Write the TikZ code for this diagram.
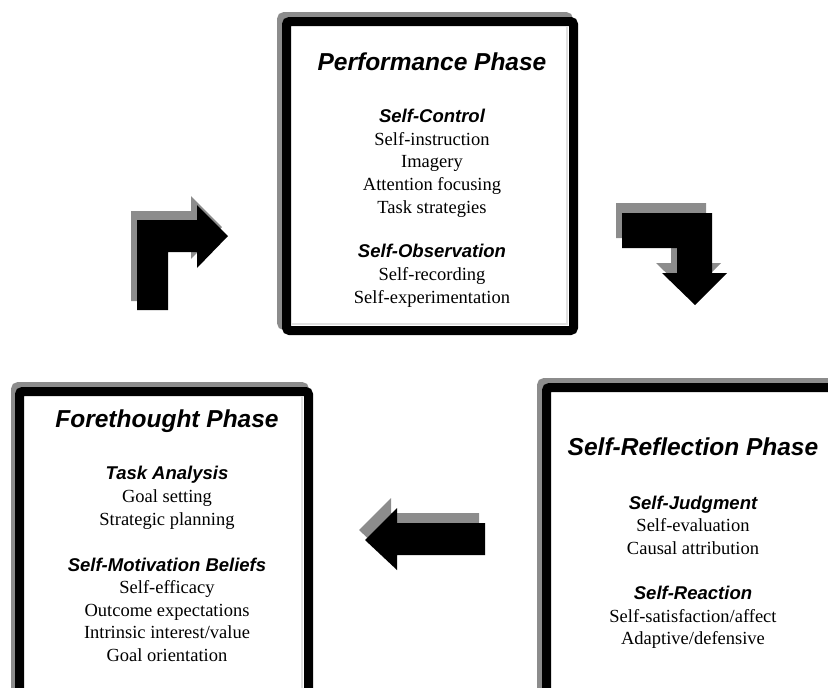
\documentclass[tikz,border=0pt]{standalone}
\usepackage{fontspec}
\setmainfont{Liberation Serif}
\setsansfont{Liberation Sans}
\begin{document}
\begin{tikzpicture}[x=1pt,y=-1pt,
  phasebox/.style={line width=9pt,rounded corners=3pt,draw=black,fill=white},
  boxshadow/.style={line width=9pt,rounded corners=3pt,draw=black!45},
  innerbevel/.style={line width=2pt,draw=black!12},
  arrowshadow/.style={fill=black!45},
  arrowbody/.style={fill=black},
  title/.style={anchor=base,inner sep=0pt,font=\fontsize{24.5}{28}\sffamily\bfseries\itshape},
  head/.style={anchor=base,inner sep=0pt,font=\fontsize{18.5}{22}\sffamily\bfseries\itshape},
  body/.style={anchor=base,inner sep=0pt,font=\fontsize{18.5}{22}\rmfamily}]
\useasboundingbox (0,0) rectangle (828,688);
\begin{scope}
\clip (0,0) rectangle (828,688);
% Performance box
\draw[boxshadow] (281.5,16.5) rectangle (568.5,325.5);
\draw[phasebox] (286.5,21.5) rectangle (573.5,330.5);
\draw[innerbevel] (567,27) -- (567,324) -- (292,324);
% Forethought box
\draw[boxshadow] (15.5,386.5) rectangle (304.5,700);
\draw[phasebox] (19.5,391.5) rectangle (308.5,705);
\draw[innerbevel] (302,397) -- (302,688);
% Self-Reflection box
\draw[boxshadow] (541.5,382.5) rectangle (840,700);
\draw[phasebox] (546.5,387.5) rectangle (845,705);
% Arrow 1 (forethought -> performance)
\fill[arrowshadow,shift={(-6,-9)}] (137,310) -- (137,220) -- (197,220) -- (197,205) -- (228,236) -- (197,268) -- (197,252) -- (168,252) -- (168,310) -- cycle;
\fill[arrowbody] (137,310) -- (137,220) -- (197,220) -- (197,205) -- (228,236) -- (197,268) -- (197,252) -- (168,252) -- (168,310) -- cycle;
% Arrow 2 (performance -> self-reflection)
\fill[arrowshadow,shift={(-6,-10)}] (622,213) -- (712,213) -- (712,273) -- (727,273) -- (695,305) -- (662,273) -- (677,273) -- (677,248) -- (622,248) -- cycle;
\fill[arrowbody] (622,213) -- (712,213) -- (712,273) -- (727,273) -- (695,305) -- (662,273) -- (677,273) -- (677,248) -- (622,248) -- cycle;
% Arrow 3 (self-reflection -> forethought)
\fill[arrowshadow,shift={(-6,-10)}] (485,523) -- (397,523) -- (397,508) -- (365,540) -- (397,570) -- (397,555) -- (485,555) -- cycle;
\fill[arrowbody] (485,523) -- (397,523) -- (397,508) -- (365,540) -- (397,570) -- (397,555) -- (485,555) -- cycle;
\end{scope}
% Performance text
\node[title] (pt) at (432,70) {Performance Phase};
\node[head] (psc) at (432,122) {Self-Control};
\node[body] (p1) at (432,145) {Self-instruction};
\node[body] (p2) at (432,167) {Imagery};
\node[body] (p3) at (432,190) {Attention focusing};
\node[body] (p4) at (432,213) {Task strategies};
\node[head] (pso) at (432,257) {Self-Observation};
\node[body] (p5) at (432,280) {Self-recording};
\node[body] (p6) at (432,303) {Self-experimentation};
% Forethought text
\node[title] (ft) at (167,427) {Forethought Phase};
\node[head] (fta) at (167,479) {Task Analysis};
\node[body] (f1) at (167,502) {Goal setting};
\node[body] (f2) at (167,525) {Strategic planning};
\node[head] (fsm) at (167,571) {Self-Motivation Beliefs};
\node[body] (f3) at (167,593) {Self-efficacy};
\node[body] (f4) at (167,616) {Outcome expectations};
\node[body] (f5) at (167,638) {Intrinsic interest/value};
\node[body] (f6) at (167,661) {Goal orientation};
% Self-Reflection text
\node[title] (st) at (693,455) {Self-Reflection Phase};
\node[head] (ssj) at (693,509) {Self-Judgment};
\node[body] (s1) at (693,531) {Self-evaluation};
\node[body] (s2) at (693,554) {Causal attribution};
\node[head] (ssr) at (693,599) {Self-Reaction};
\node[body] (s3) at (693,622) {Self-satisfaction/affect};
\node[body] (s4) at (693,644) {Adaptive/defensive};
\end{tikzpicture}
\end{document}
